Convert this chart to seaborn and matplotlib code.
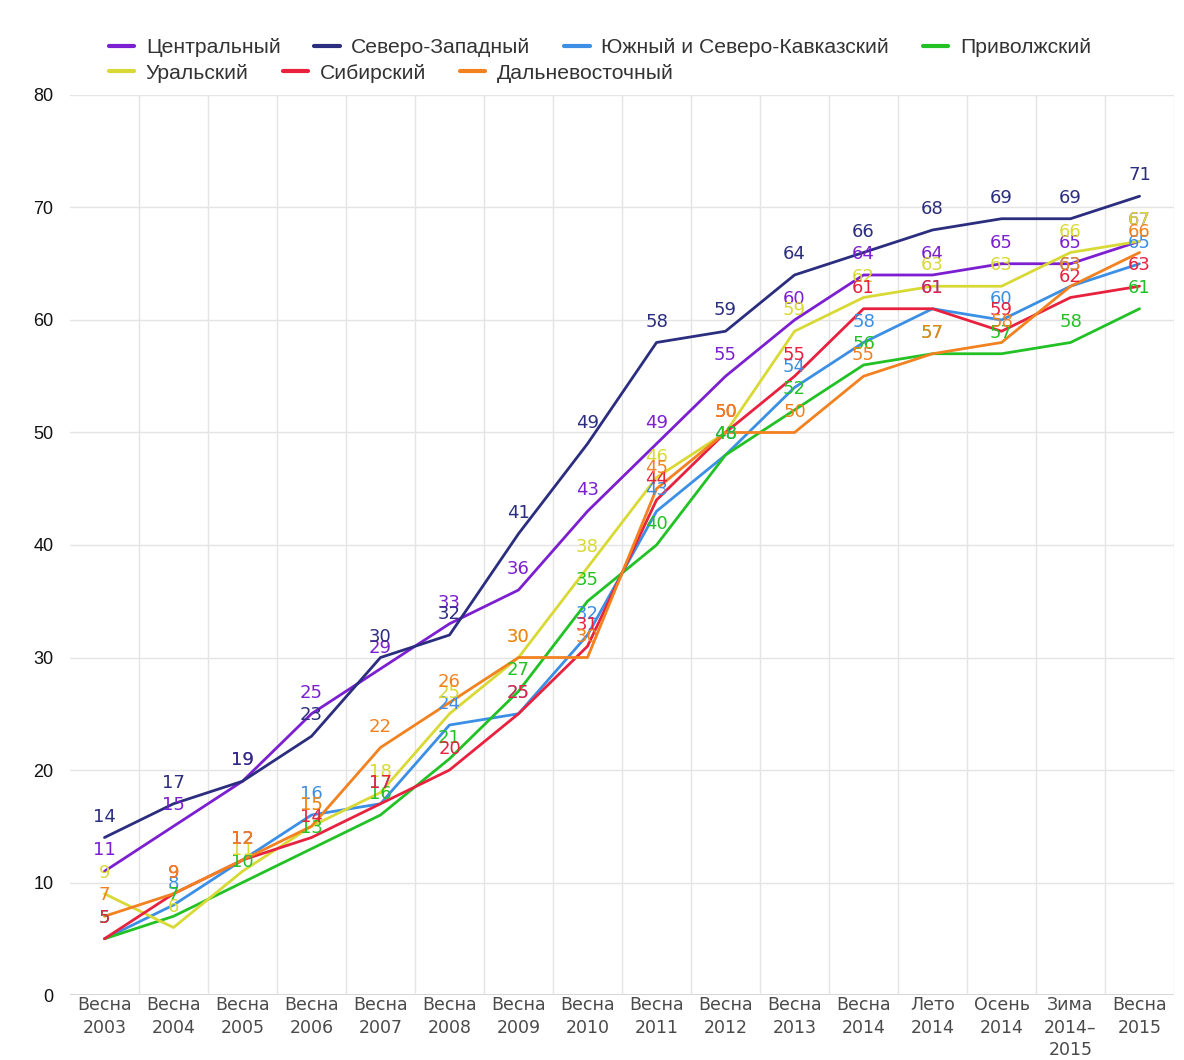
import matplotlib
matplotlib.use("Agg")
import matplotlib.pyplot as plt
import pandas as pd
import seaborn as sns

# %% data
periods = [
    "Весна\n2003", "Весна\n2004", "Весна\n2005", "Весна\n2006", "Весна\n2007",
    "Весна\n2008", "Весна\n2009", "Весна\n2010", "Весна\n2011", "Весна\n2012",
    "Весна\n2013", "Весна\n2014", "Лето\n2014", "Осень\n2014", "Зима\n2014–\n2015",
    "Весна\n2015",
]
regions = [
    "Центральный", "Северо-Западный", "Южный и Северо-Кавказский", "Приволжский",
    "Уральский", "Сибирский", "Дальневосточный",
]
central = [11, 15, 19, 25, 29, 33, 36, 43, 49, 55, 60, 64, 64, 65, 65, 67]
northwest = [14, 17, 19, 23, 30, 32, 41, 49, 58, 59, 64, 66, 68, 69, 69, 71]
south = [5, 8, 12, 16, 17, 24, 25, 32, 43, 48, 54, 58, 61, 60, 63, 65]
volga = [5, 7, 10, 13, 16, 21, 27, 35, 40, 48, 52, 56, 57, 57, 58, 61]
ural = [9, 6, 11, 15, 18, 25, 30, 38, 46, 50, 59, 62, 63, 63, 66, 67]
siberia = [5, 9, 12, 14, 17, 20, 25, 31, 44, 50, 55, 61, 61, 59, 62, 63]
fareast = [7, 9, 12, 15, 22, 26, 30, 30, 45, 50, 50, 55, 57, 58, 63, 66]

colors = ["#7b1fd1", "#2b2d7e", "#3b8fe4", "#22c125", "#d9d936", "#e8213f", "#f2811f"]

series = [central, northwest, south, volga, ural, siberia, fareast]
df = pd.DataFrame(
    [
        {"region": r, "x": i, "value": v}
        for r, vals in zip(regions, series)
        for i, v in enumerate(vals)
    ]
)

# %% plot
sns.set_style("white")
plt.rcParams["font.family"] = ["DejaVu Sans"]

fig = plt.figure(figsize=(11.84, 10.6), dpi=100)
ax = fig.add_axes([0.0591, 0.0613, 0.9325, 0.8491])

sns.lineplot(
    data=df, x="x", y="value", hue="region", hue_order=regions,
    palette=colors, linewidth=2.0, ax=ax, legend=False, sort=False,
)

for r, vals, c in zip(regions, series, colors):
    for i, v in enumerate(vals):
        ax.annotate(
            str(v), (i, v), xytext=(0, 15), textcoords="offset points",
            ha="center", va="center", fontsize=13, color=c,
        )

ax.set_xlim(-0.5, len(periods) - 0.5)
ax.set_ylim(0, 80)
ax.set_yticks(range(0, 81, 10))
ax.set_xticks(range(len(periods)))
ax.set_xticklabels(periods, fontsize=12.5, color="#4a4a4a", linespacing=1.3, va="top")
ax.set_xticks([i + 0.5 for i in range(len(periods))], minor=True)
ax.tick_params(axis="x", which="both", length=0, pad=1)
ax.tick_params(axis="y", length=0, pad=12)
for lab in ax.get_yticklabels():
    lab.set_fontfamily("Liberation Sans")
    lab.set_fontsize(13)
    lab.set_color("#111111")
ax.set_xlabel("")
ax.set_ylabel("")

ax.grid(True, axis="y", color="#e4e4e4", linewidth=1)
ax.grid(True, axis="x", which="minor", color="#e4e4e4", linewidth=1)
ax.grid(False, axis="x", which="major")
ax.axhline(0, color="#cccccc", linewidth=1.2, zorder=0)
for s in ax.spines.values():
    s.set_visible(False)

# legend in two flowing rows
handles = [plt.Line2D([], [], color=c, linewidth=3) for c in colors]
legend_kw = dict(
    loc="upper left", frameon=False, borderpad=0, borderaxespad=0,
    handlelength=1.2, handletextpad=0.55, columnspacing=1.6,
    prop={"family": "Liberation Sans", "size": 15.2},
    labelcolor="#333333",
)
fig.legend(handles[:4], regions[:4], ncol=4, bbox_to_anchor=(0.092, 0.964), **legend_kw)
fig.legend(handles[4:], regions[4:], ncol=3, bbox_to_anchor=(0.092, 0.940), **legend_kw)

fig.savefig("out.png", dpi=100)
